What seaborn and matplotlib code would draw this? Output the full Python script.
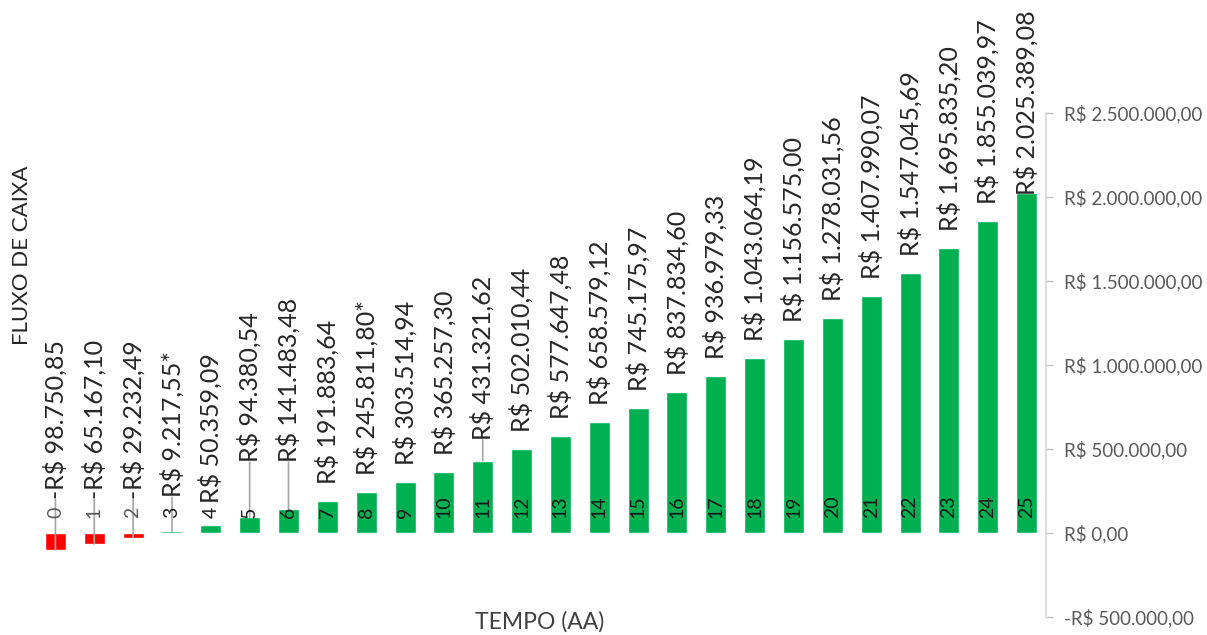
import pandas as pd
import numpy as np
import matplotlib
matplotlib.use("Agg")
import matplotlib.pyplot as plt
from matplotlib.ticker import FuncFormatter
from matplotlib.transforms import offset_copy
import seaborn as sns

# Fluxo de caixa por ano (R$)
anos = list(range(26))
fluxo = [-98750.85, -65167.10, -29232.49, 9217.55, 50359.09, 94380.54,
         141483.48, 191883.64, 245811.80, 303514.94, 365257.30, 431321.62,
         502010.44, 577647.48, 658579.12, 745175.97, 837834.60, 936979.33,
         1043064.19, 1156575.00, 1278031.56, 1407990.07, 1547045.69,
         1695835.20, 1855039.97, 2025389.08]
marcados = [3, 8]  # anos com asterisco no rótulo
y_ticks = [-500000, 0, 500000, 1000000, 1500000, 2000000, 2500000]


def brl(v, pos=None, dec=2):
    s = f"{abs(v):,.{dec}f}".replace(",", "X").replace(".", ",").replace("X", ".")
    return ("-R$ " if v < 0 else "R$ ") + s


df = pd.DataFrame({"ano": anos, "valor": fluxo})
df["sinal"] = np.where(df["valor"] < 0, "neg", "pos")

sns.set_style("white")
plt.rcParams["font.family"] = ["Lato", "DejaVu Sans"]

fig = plt.figure(figsize=(12.07, 6.35), dpi=100)
ax = fig.add_axes([36 / 1207, 1 - 617 / 635, (1046 - 36) / 1207, (617 - 113) / 635])

sns.barplot(data=df, x="ano", y="valor", hue="sinal", dodge=False,
            palette={"neg": "#FF0000", "pos": "#00B050"}, width=0.54,
            saturation=1, legend=False, ax=ax)

ax.set_xlim(-0.5, 25.5)
ax.set_ylim(-500000, 2500000)
ax.set_yticks(y_ticks)
ax.yaxis.tick_right()
ax.yaxis.set_major_formatter(FuncFormatter(brl))
ax.tick_params(axis="y", direction="out", length=5, width=1, color="#bfbfbf",
               pad=8, labelsize=13.5, labelcolor="#595959")
ax.tick_params(axis="x", length=0, labelbottom=False)
ax.set_xlabel("")
ax.set_ylabel("")
for s in ["left", "top", "bottom"]:
    ax.spines[s].set_visible(False)
ax.spines["right"].set_color("#d9d9d9")
ax.spines["right"].set_linewidth(1.2)

# distancia (px) entre o topo da barra e o rótulo; alguns foram deslocados
desloc = {0: 36, 1: 36, 2: 36, 3: 36, 4: 24, 5: 57, 6: 49, 11: 23, 25: 0}
com_linha = [0, 1, 2, 3, 5, 6, 11]

for i, v in zip(anos, fluxo):
    topo = max(v, 0)
    off_pt = (desloc.get(i, 19) - 2) * 72 / 100
    trans = offset_copy(ax.transData, fig=fig, x=0, y=off_pt, units="points")
    txt = brl(v) + ("*" if i in marcados else "")
    ax.text(i, topo, txt, transform=trans, rotation=90, ha="center",
            va="bottom", fontsize=18, color="#262626", clip_on=False)
    if i in com_linha:
        ax.annotate("", xy=(i, v), xycoords="data", xytext=(i, topo),
                    textcoords=trans,
                    arrowprops=dict(arrowstyle="-", color="#a6a6a6", lw=1.2,
                                    shrinkA=0, shrinkB=0))
    ax.text(i, 89000, str(i), rotation=90, ha="center", va="bottom",
            fontsize=14, color="#1a1a1a" if v > 0 else "#595959")

fig.text(22 / 1207, 1 - 255 / 635, "FLUXO DE CAIXA", rotation=90,
         ha="center", va="center", fontsize=16, color="#262626")
fig.text(540 / 1207, 1 - 622 / 635, "TEMPO (AA)", ha="center", va="center",
         fontsize=16.5, color="#404040")

fig.savefig("out.png", dpi=100)
